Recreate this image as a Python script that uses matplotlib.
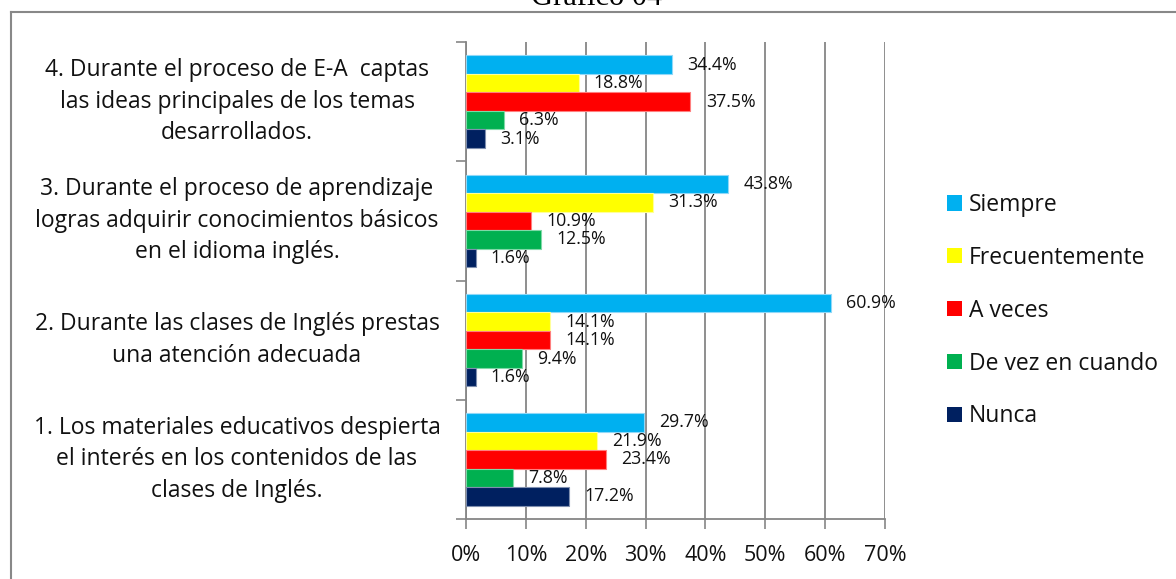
import numpy as np
import matplotlib
matplotlib.use("Agg")
import matplotlib.pyplot as plt
from matplotlib.patches import Patch
from matplotlib.lines import Line2D

plt.rcParams['font.family'] = ['Open Sans', 'DejaVu Sans']

categories = [
    "1. Los materiales educativos despierta\nel interés en los contenidos de las\nclases de Inglés.",
    "2. Durante las clases de Inglés prestas\nuna atención adecuada",
    "3. Durante el proceso de aprendizaje\nlogras adquirir conocimientos básicos\nen el idioma inglés.",
    "4. Durante el proceso de E-A  captas\nlas ideas principales de los temas\ndesarrollados.",
]
series = ["Siempre", "Frecuentemente", "A veces", "De vez en cuando", "Nunca"]
colors = ["#00B0F0", "#FFFF00", "#FF0000", "#00B050", "#002060"]
edges = ["#8FD8F8", "#FFFF99", "#FF7F7F", "#7FD8A7", "#7F8FAF"]

siempre = [29.7, 60.9, 43.8, 34.4]
frecuente = [21.9, 14.1, 31.3, 18.8]
a_veces = [23.4, 14.1, 10.9, 37.5]
de_vez = [7.8, 9.4, 12.5, 6.3]
nunca = [17.2, 1.6, 1.6, 3.1]
values = [siempre, frecuente, a_veces, de_vez, nunca]

xticks = [0, 10, 20, 30, 40, 50, 60, 70]

fig = plt.figure(figsize=(11.76, 5.79), dpi=100)
ax = fig.add_axes([466/1176, 1 - 519/579, (885-466)/1176, (519-42)/579])

y = np.arange(len(categories))
h = 0.155
for i, (name, vals) in enumerate(zip(series, values)):
    pos = y + (2 - i) * h
    ax.barh(pos, vals, height=h, color=colors[i], edgecolor=edges[i],
            linewidth=0.8, zorder=3, label=name)
    for p, v in zip(pos, vals):
        ax.annotate(f"{v:.1f}%", (v, p), xytext=(11, 0), textcoords='offset points',
                    va='center', ha='left', fontsize=12.8, color='#111111', zorder=4)

ax.set_xlim(0, 70)
ax.set_ylim(-0.5, 3.5)
ax.set_xticks(xticks)
ax.set_xticklabels([f"{t}%" for t in xticks], fontsize=15.5, color='#111111')
ax.set_yticks([-0.5, 0.5, 1.5, 2.5, 3.5])
ax.set_yticklabels([])
ax.tick_params(axis='both', direction='out', length=7, width=1.2, color='#868686')
ax.tick_params(axis='x', pad=12)
ax.xaxis.grid(True, color='#868686', linewidth=1.3, zorder=0)
for s in ['top', 'right']:
    ax.spines[s].set_visible(False)
for s in ['left', 'bottom']:
    ax.spines[s].set_color('#868686')
    ax.spines[s].set_linewidth(1.3)

# category labels, centred block left of the axis
fig.canvas.draw()
for c, lab in zip(y, categories):
    yy = ax.transData.transform((0, c))[1] / fig.bbox.height
    fig.text(237/1176, yy, lab, ha='center', va='center', fontsize=16.5,
             linespacing=1.42, multialignment='center', color='#111111')

handles = [Patch(facecolor=c, edgecolor='none') for c in colors]
fig.legend(handles, series, loc='upper left', bbox_to_anchor=(947/1176, 1 - 193/579),
           frameon=False, fontsize=16.5, labelspacing=1.26, handlelength=0.65,
           handleheight=0.65, handletextpad=0.3, borderaxespad=0, borderpad=0,
           labelcolor='#111111')

# frame around the chart
fig.add_artist(Line2D([11/1176, 11/1176], [1 - 12/579, 0], transform=fig.transFigure,
                      color='#888888', linewidth=1.5))
fig.add_artist(Line2D([11/1176, 1], [1 - 12/579, 1 - 12/579], transform=fig.transFigure,
                      color='#888888', linewidth=1.5))

fig.text(597/1176, 1 - 5/579, "Gráfico 04", ha='center', va='baseline',
         fontsize=22, family='Liberation Serif')

fig.savefig("out.png", dpi=100)
